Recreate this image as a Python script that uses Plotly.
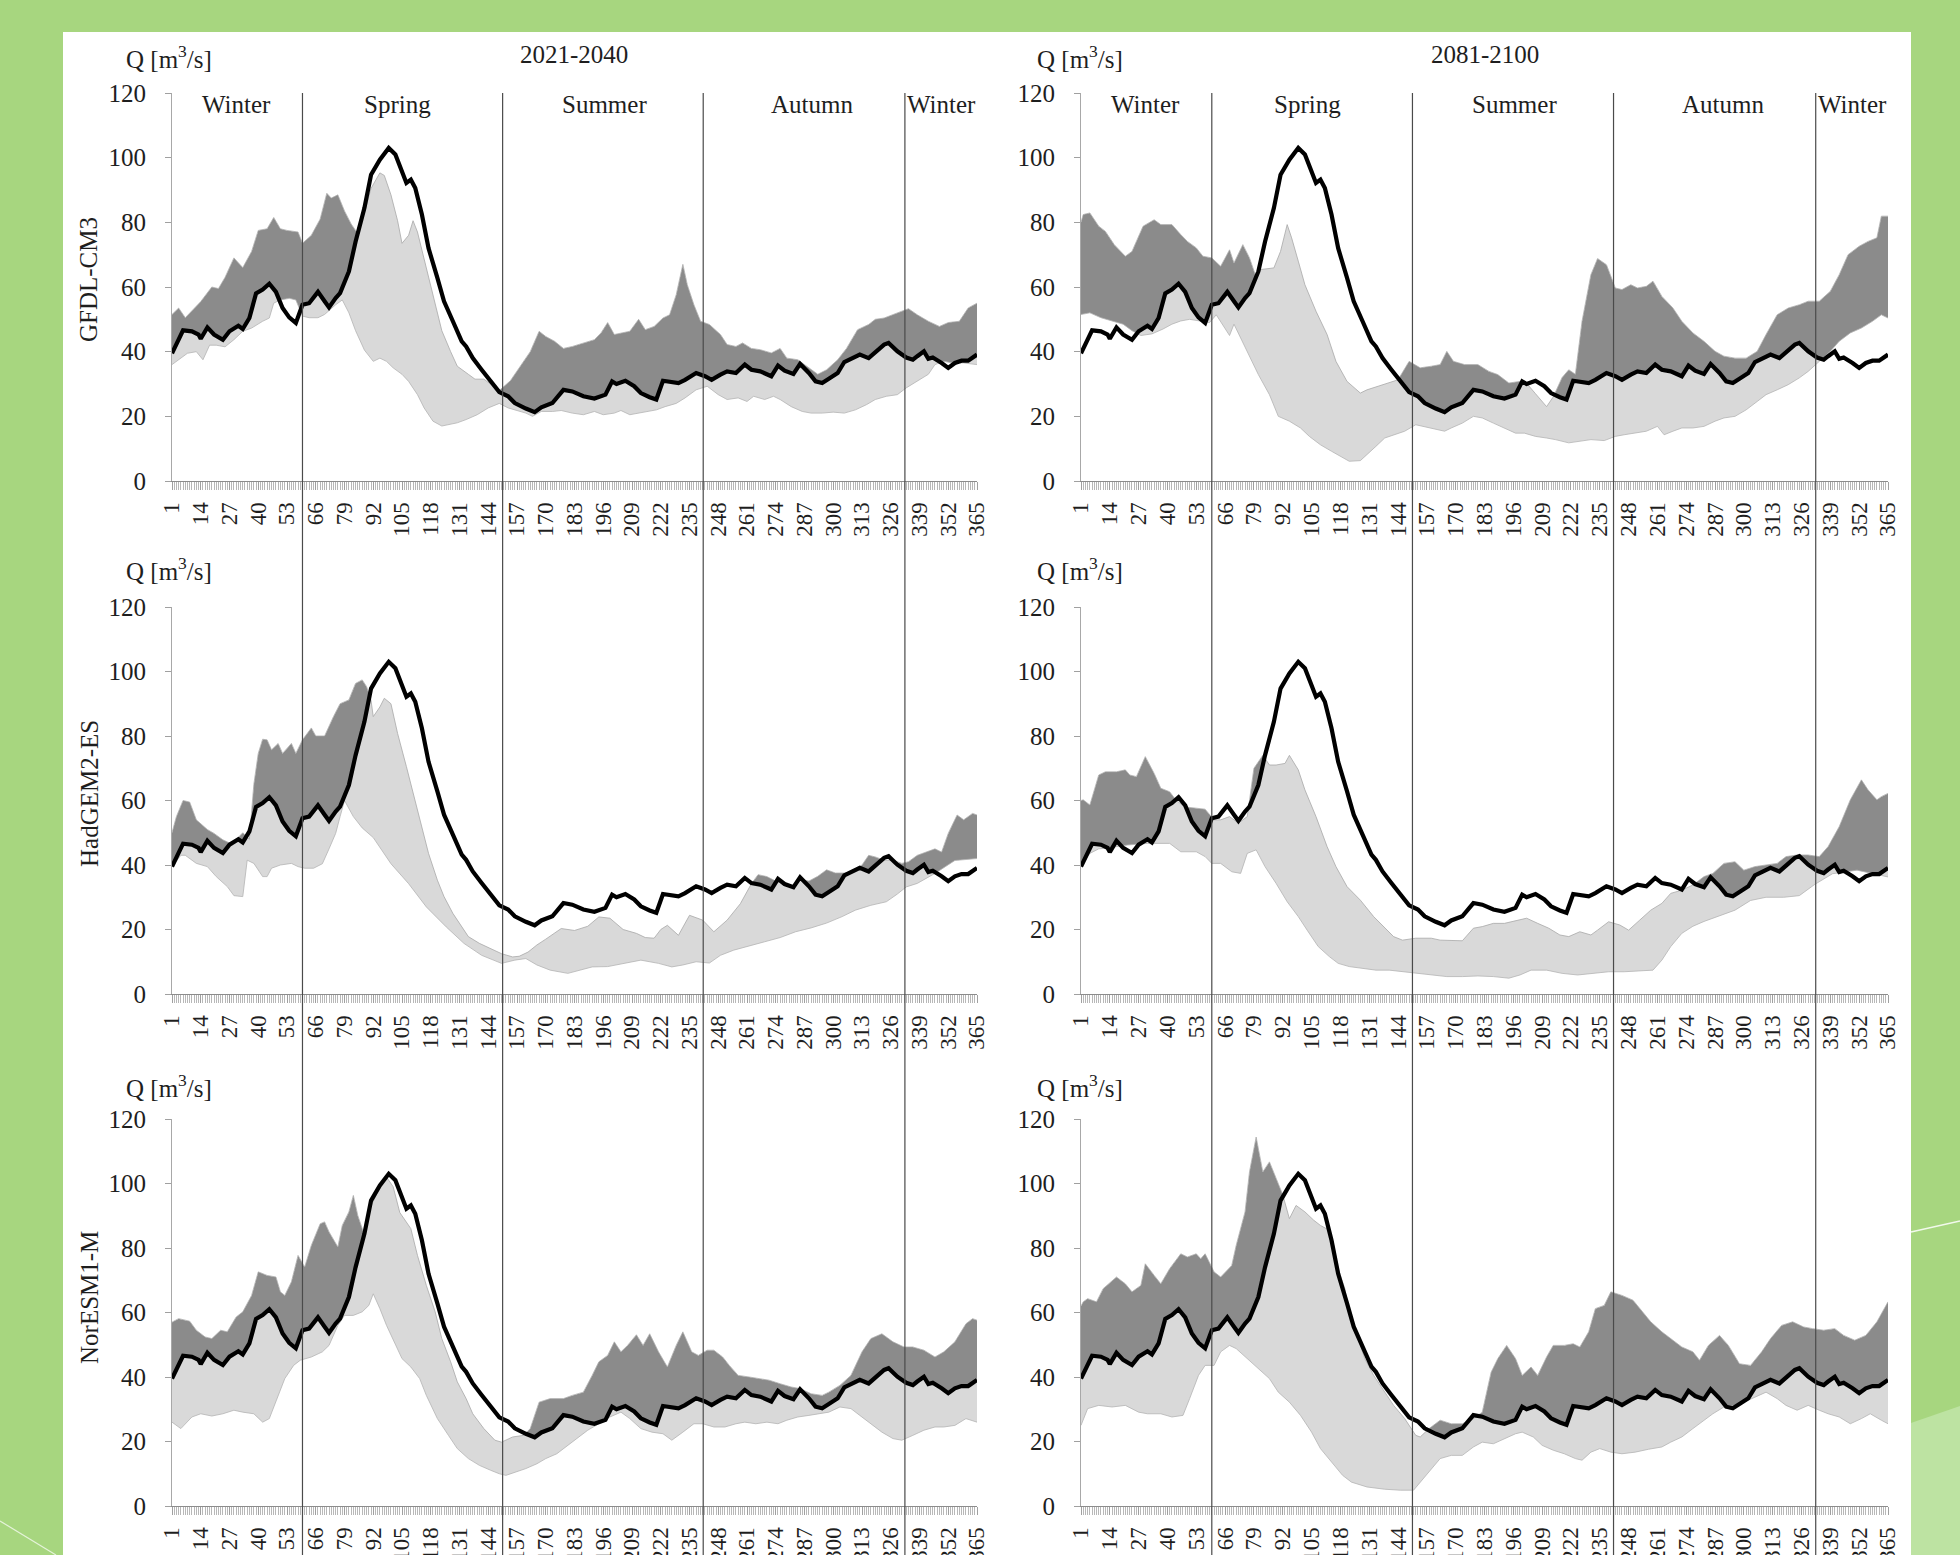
import plotly.graph_objects as go

# ---------------- data (day of year, Q [m3/s]) ----------------
tick_days = list(range(1, 366, 13))
season_names = ["Winter", "Spring", "Summer", "Autumn", "Winter"]
season_label_days = [30, 103, 196.5, 290.5, 349]
season_bounds = [60, 150.5, 241.2, 332.4]
periods = ["2021-2040", "2081-2100"]
models = ["GFDL-CM3", "HadGEM2-ES", "NorESM1-M"]

observed = [(1,39.5),(6,46.6),(10,46.3),(13,45.3),(14,44),(17,47.5),(20,45.3),(24,43.7),(27,46.3),(31,48),(33,47),(36,50.4),
            (39,58),(42,59.2),(45,61),(48,58.5),(51,53.5),(54,50.6),(57,48.9),(60,54.5),(63,55),(67,58.5),(70,55.6),(72,53.7),
            (75,56.6),(77,58.1),(81,64.8),(84,74),(88,84.4),(91,94.7),(95,99.4),(99,103),(102,101),(105,95.3),(107,92.2),
            (109,93.2),(111,90.6),(114,82.4),(117,72),(121,62.8),(124,55.6),(128,49.4),(132,43.2),(134,41.6),(137,38),
            (141,34.4),(145,30.8),(149,27.5),(153,26.2),(156,24.1),(161,22.4),(165,21.3),(168,22.8),(173,24.1),(178,28.2),
            (182,27.7),(187,26.2),(192,25.5),(197,26.7),(200,30.8),(202,30),(206,31),(210,29.3),(213,27.2),(217,25.9),
            (220,25.2),(223,31),(226,30.8),(230,30.3),(233,31.3),(238,33.4),(242,32.4),(245,31.3),(249,32.9),(252,33.9),
            (256,33.4),(260,36),(263,34.4),(267,33.9),(272,32.4),(275,35.7),(278,34.1),(282,33.1),(285,36.2),(289,33.4),
            (292,30.8),(295,30.3),(298,31.6),(302,33.4),(305,36.8),(309,38.2),(312,39.1),(316,38),(320,40.6),(323,42.2),
            (325,42.7),(329,40.1),(333,38.2),(336,37.5),(338,38.6),(341,40.1),(343,37.8),(345,38.2),(349,36.5),(352,35),
            (355,36.5),(358,37.2),(361,37.2),(365,39.1)]

gfdl_2021_max = [(1,51.5),(4,53.5),(7,50.5),(11,53.5),(14,55.5),(19,60),(22,59.5),(25,63),(29,69),(33,66),(37,71),(40,77.5),
                 (44,78),(47,81.5),(50,78),(53,77.5),(58,77),(60,73.5),(64,76),(68,81),(71,89),(73,87.5),(76,88.5),(79,83.5),
                 (82,79.5),(85,76.5),(88,83),(91,90.5),(95,95.3),(97,94.5),(100,88.5),(103,80.5),(105,73.5),(108,76),
                 (110,80.5),(112,77),(116,66),(120,54.5),(123,46.5),(127,40),(130,35.5),(135,33),(138,31.5),(142,31.5),
                 (145,30),(149,28),(154,31),(159,36),(163,40),(167,46.3),(170,44.7),(174,43.2),(178,41),(182,41.6),
                 (187,42.7),(192,43.7),(195,45.8),(198,49),(201,45.3),(205,45.8),(208,46.3),(212,50),(215,46.8),(219,47.8),
                 (223,50.4),(226,51.4),(229,57.6),(232,67),(234,60.7),(237,54.5),(240,49.4),(244,48.4),(249,45.3),
                 (252,42.2),(256,41.6),(259,42.7),(263,41),(267,40.6),(272,39.6),(276,41),(279,38),(284,37.5),(289,35),
                 (293,33),(297,34.4),(302,37.5),(306,41),(311,46.8),(316,48.4),(319,50),(323,50.4),(327,51.4),(330,52.3),
                 (334,53.3),(338,51.4),(343,49.4),(348,47.8),(352,49),(357,49.4),(361,53.5),(365,55)]
gfdl_2021_min = [(1,36),(4,37.5),(8,39.5),(12,40),(15,37.5),(18,42),(21,42),(25,41.5),(29,43.7),(33,46.3),(37,47.3),(42,49.4),
                 (45,50.4),(47,55),(50,56),(54,56.5),(57,56),(60,51),(63,50.5),(67,50.5),(70,51.5),(75,54.5),(78,56),(81,52),
                 (84,46.5),(88,40.5),(92,37),(95,38),(98,37),(101,35),(105,33),(108,30.8),(112,26.7),(115,22.6),(119,18.5),
                 (123,17),(126,17.4),(130,18),(134,19),(139,20.5),(144,22.6),(149,24),(153,22.6),(156,22),(161,21),(164,20),
                 (168,21.5),(173,21.5),(177,21.8),(182,21),(187,20.5),(192,21.5),(196,20.5),(201,21),(204,21.8),(208,20.5),
                 (212,21),(215,21.5),(220,22),(224,23),(229,24),(233,25.7),(238,28.2),(243,29.3),(248,26.7),(252,25.2),
                 (257,25.7),(261,24.6),(264,26.2),(269,25.2),(273,26.2),(276,25.2),(281,23),(286,21.5),(290,21),(295,21),
                 (300,21.3),(305,21),(310,22),(315,23.6),(319,25.2),(324,26.2),(329,26.7),(333,28.8),(338,30.8),(343,33),
                 (346,36),(350,37),(354,36.5),(359,36.5),(365,36)]

gfdl_2081_max = [(1,80),(2,82.4),(5,82.9),(9,78.8),(12,77.2),(16,73.1),(21,69.5),(24,71),(29,78.8),(34,80.8),(37,79.3),(42,79.3),
                 (46,76.2),(49,74.1),(53,72.1),(56,69.5),(60,69),(64,66.4),(68,71.5),(70,67.4),(74,73.1),(77,69),(80,63),
                 (82,65.4),(88,65.9),(91,71),(94,79.3),(96,75.2),(99,68),(102,60.7),(107,52.5),(112,45.3),(116,37),(121,30.8),
                 (127,27.2),(130,28.2),(135,29.3),(140,30.3),(144,31.3),(149,37),(154,35),(159,35.5),(163,36),(166,40.1),
                 (169,37),(174,36),(180,36),(185,33.9),(189,32.9),(194,30.3),(198,30.8),(201,31),(206,27),(211,23),(214,26),
                 (218,32),(221,34.4),(224,33),(227,49.4),(231,63.8),(234,68.8),(238,66.9),(242,59.7),(245,59.2),(249,60.7),
                 (252,59.7),(256,60.2),(259,61.8),(263,57.1),(268,53.5),(272,49.4),(277,45.8),(282,43.2),(287,40.1),
                 (291,38.6),(296,38),(301,38),(306,40.1),(310,45.3),(315,51.4),(320,53.5),(325,54.5),(329,55.6),(334,55.6),
                 (339,58.7),(343,63.8),(347,70),(352,72.6),(356,74.1),(360,75.2),(362,81.9),(365,81.9)]
gfdl_2081_min = [(1,51.5),(5,52),(10,50.5),(15,49.5),(20,48.5),(24,46.5),(28,45),(33,45.5),(38,47),(42,48.5),(46,49.5),(50,50),
                 (55,49.5),(59,49),(62,51.4),(66,47),(68,45),(70,48.5),(76,40.1),(81,32.9),(86,26.7),(90,20),(95,18.5),
                 (100,16.4),(104,13.8),(109,11.2),(114,9.2),(119,7.1),(122,6.1),(127,6.3),(130,8.1),(134,10.7),(138,13.3),
                 (142,14.3),(147,15.4),(152,17.4),(155,16.9),(161,15.9),(165,15.4),(168,16.4),(173,17.9),(178,20),(182,19.5),
                 (187,17.9),(192,16.4),(197,14.8),(201,14.8),(206,13.8),(211,13.3),(215,12.8),(221,11.8),(226,12.3),
                 (231,12.8),(237,12.5),(242,13.8),(246,14.3),(251,14.8),(256,15.4),(261,16.9),(264,14.3),(268,15.4),
                 (272,16.4),(277,16.4),(282,16.9),(287,18.5),(291,19.5),(296,20),(301,22),(306,24.6),(310,26.7),(315,28.2),
                 (320,29.8),(325,31.9),(329,33.9),(334,37),(339,40.1),(343,43.2),(348,45.8),(353,47.3),(358,49.4),
                 (362,51.4),(365,50.4)]

had_2021_max = [(1,50),(3,55),(6,60),(9,59.5),(12,54),(17,51),(20,49.8),(24,47.8),(28,46.5),(33,50),(36,48),(38,65),(40,74.6),
                (42,79),(44,78.8),(46,75.7),(49,77.7),(51,74.6),(55,77.7),(57,74.6),(60,78.8),(64,82.5),(66,80),(70,80),
                (74,86),(77,90),(81,91.2),(84,96.3),(87,97.4),(89,95.3),(91,91),(92,86),(95,89),(97,91.7),(100,90),
                (103,80.8),(107,70.5),(110,62.3),(114,52),(117,43.6),(121,35.3),(124,30.2),(128,25),(132,20.9),(135,17.8),
                (140,15.7),(145,14),(150,12.5),(155,11.5),(158,11.7),(162,13),(166,15.2),(170,17),(174,19),(177,20.3),
                (183,19.7),(189,21),(194,23.9),(199,23.5),(205,20),(211,18.8),(215,17.5),(219,17.3),(222,20),(225,21.3),
                (230,18.2),(235,24.4),(241,22.9),(246,19.3),(252,22.9),(258,28),(263,34.2),(266,37),(270,36.4),(274,35),
                (278,34),(282,33.5),(285,35.5),(289,35),(293,36.5),(297,38.5),(301,37.5),(305,37.5),(309,38),(313,40),
                (316,43),(319,42.5),(323,41.5),(327,41.5),(331,40.5),(334,41),(338,43),(342,44),(346,45),(349,44),
                (352,49.8),(356,55.5),(359,54),(363,56),(365,55.5)]
had_2021_min = [(1,39.5),(5,43),(7,43),(12,40.5),(17,39.5),(21,36.4),(26,33.3),(29,30.5),(33,30.2),(35,41.5),(38,40.5),
                (42,36.4),(44,36.4),(46,39),(50,40),(55,40.5),(58,39.5),(61,39),(65,39),(69,40.4),(72,45),(75,49.8),(77,55),
                (79,60),(83,55),(87,51.5),(92,48.5),(100,40.4),(108,34.2),(116,27),(125,20.8),(133,15.7),(141,12),(150,9.5),
                (156,10.5),(161,11),(166,9),(172,7.4),(180,6.4),(186,7.5),(191,8.4),(198,8.5),(205,9.5),(213,10.5),
                (221,9.5),(227,8.4),(232,9),(238,10),(244,9.6),(249,12),(255,13.6),(262,15),(269,16.2),(276,17.5),
                (283,19.3),(290,20.5),(297,22),(304,24),(310,26),(317,27.5),(324,28.6),(329,31),(333,33.2),(338,34.3),
                (346,37.4),(355,41.4),(365,42)]

had_2081_max = [(1,60),(2,60.2),(5,58.6),(9,67.9),(12,68.9),(17,68.9),(21,69.5),(23,67.9),(26,67.4),(30,73.6),(34,68.4),
                (37,63.8),(41,62.7),(44,60),(48,58),(53,57.6),(57,57.3),(61,54),(64,54),(68,55),(72,53),(76,55),(79,70),
                (83,74),(86,71),(89,71),(93,71.5),(95,74),(99,69.5),(102,63.3),(107,55),(112,45.7),(116,39.5),(121,33.3),
                (127,29.1),(133,24),(138,20.4),(142,17.8),(146,16.7),(152,17.3),(159,17.3),(163,16.7),(173,16.5),
                (178,20.4),(182,20.9),(187,21.9),(192,21.9),(198,22.9),(202,23.5),(207,21.9),(212,20.4),(217,18.3),
                (221,17.8),(226,19.3),(231,18.3),(234,19.8),(239,22.4),(244,21.4),(248,19.8),(253,22.9),(258,26),
                (263,28.1),(267,31.2),(272,32.2),(277,33.8),(282,36.4),(286,37.4),(291,40.5),(296,41),(300,38.4),
                (305,39.5),(310,40),(315,40.5),(319,42.6),(324,43.1),(329,43.1),(334,42.6),(338,45.7),(343,51.9),
                (348,60.2),(353,66.4),(356,63.3),(360,60.2),(362,61.2),(365,62.2)]
had_2081_min = [(1,40),(5,43.6),(9,45),(12,45.2),(22,46.2),(31,46.7),(41,46.7),(46,44.1),(53,44.1),(57,42.6),(60,40.5),
                (64,40.5),(69,37.9),(73,37.4),(76,43.6),(80,44.7),(84,39.5),(89,34.3),(94,28.6),(99,24),(103,19.8),
                (108,14.7),(113,11.6),(117,9.5),(122,8.5),(128,8),(134,7.4),(140,7.4),(147,6.9),(152,6.4),(159,5.9),
                (166,5.4),(173,5.4),(180,5.6),(187,5.4),(194,4.9),(199,5.9),(204,7.4),(211,7.4),(218,6.4),(225,5.9),
                (232,6.4),(239,6.9),(246,6.9),(253,7.2),(259,7.4),(263,10.5),(267,14.7),(272,18.8),(277,21),(282,22.5),
                (290,24.5),(296,26),(303,29),(310,30),(318,30),(325,30.5),(332,34),(340,37.3),(351,38.4),(365,36.3)]

nor_2021_max = [(1,57),(4,58.1),(9,57.3),(12,54.5),(16,52.4),(19,51.9),(23,54.5),(26,54),(30,58.6),(33,60.2),(37,65.3),
                (40,72.6),(44,71.5),(48,71),(50,66.4),(52,65.3),(55,69.5),(58,77.7),(61,74.1),(64,80.8),(68,87.5),(70,88.1),
                (72,85),(76,80.3),(78,87),(81,91.2),(83,96.3),(85,90.1),(88,84),(91,93),(95,99),(98,102),(101,99),(104,91),
                (109,86),(112,77.7),(116,68.4),(120,60.2),(123,51.9),(127,44.7),(130,38.5),(134,33.3),(137,28.6),(142,24),
                (147,20.4),(150,19.8),(155,21.4),(160,21.9),(163,24),(167,32.2),(172,33.3),(178,33.3),(182,34.3),(187,35.3),
                (191,40.5),(194,44.7),(198,46.7),(201,50.9),(204,47.8),(207,49.8),(211,53.1),(214,49.8),(217,53.4),
                (221,47.8),(225,43.1),(229,49.8),(232,54),(236,47.8),(239,46.7),(243,48.3),(246,48.3),(250,46.2),
                (253,43.6),(257,40.5),(262,40),(267,39.5),(271,39),(276,37.9),(281,36.9),(285,36.4),(290,34.8),(295,34.3),
                (298,35.3),(303,37.4),(308,40.5),(313,47.8),(317,51.9),(322,53.4),(327,50.9),(332,49.3),(336,49.3),
                (341,48.3),(346,46.2),(350,47.8),(355,50.9),(360,56.5),(363,58.1),(365,57.6)]
nor_2021_min = [(1,26),(5,24),(10,27.6),(14,28.6),(19,27.9),(24,28.6),(29,29.7),(33,29.1),(38,28.6),(42,26),(45,27.1),
                (49,34.3),(52,39.5),(56,43.6),(59,45.2),(64,46.2),(69,47.8),(72,49.8),(76,56),(79,59.1),(83,59.1),(87,60.2),
                (90,62.2),(92,65.8),(95,61.2),(98,56),(102,49.8),(105,45.7),(109,43.1),(113,39.5),(116,34.3),(121,27.1),
                (126,21.9),(130,17.8),(135,14.7),(140,12.6),(145,11.1),(149,10),(152,9.5),(156,10.5),(161,11.6),(166,13.1),
                (170,14.7),(175,16.2),(180,18.8),(185,21.4),(189,23.5),(194,25.5),(199,27.6),(204,29.1),(208,27.1),
                (213,24),(218,22.9),(223,22.4),(227,20.4),(232,22.9),(237,25.5),(241,25.5),(246,24.5),(251,24.5),
                (256,25.5),(260,26),(265,25.5),(270,26),(275,25.5),(279,26.6),(284,27.6),(289,28.1),(294,28.6),(298,29.1),
                (303,30.7),(308,30.2),(312,28.1),(317,25.5),(322,22.9),(327,20.9),(331,20.4),(336,21.9),(341,23.5),
                (346,24.5),(350,24.5),(355,25),(360,27.1),(365,26)]

nor_2081_max = [(1,62),(2,63.3),(4,64.3),(8,63.3),(11,67.4),(17,71),(21,68.9),(24,66.4),(28,68.4),(30,75.1),(34,71.5),
                (37,68.9),(41,73.6),(46,78.2),(49,77.2),(53,78.2),(55,76.7),(57,78.2),(61,72.6),(64,71),(69,74.6),(71,80.8),
                (75,91.2),(77,103.6),(80,114.4),(83,103.6),(86,106.7),(89,101.5),(92,96.5),(95,89.1),(98,93.2),(102,91.2),
                (106,88.6),(109,87),(113,85.5),(115,80.8),(117,73.6),(120,67.4),(122,60.2),(126,51.9),(129,45.7),
                (133,40.5),(138,35.3),(142,31.2),(147,27.1),(152,21.9),(154,21.4),(158,24),(163,26.6),(168,25.5),
                (173,25.5),(178,27.1),(182,29.1),(186,41.5),(189,45.7),(193,49.8),(197,45.7),(200,40.5),(204,43.1),
                (207,40.5),(211,46.2),(214,49.8),(219,49.8),(223,50.3),(226,49.3),(230,54),(233,61.2),(237,62.2),
                (240,66.4),(245,65.3),(250,63.8),(253,61.2),(258,57.1),(263,54),(267,51.9),(272,49.3),(277,47.8),
                (280,45.2),(284,49.8),(289,52.9),(293,49.8),(298,44.1),(303,43.6),(308,47.8),(312,51.9),(317,56),
                (322,57.1),(327,55.5),(331,55),(336,54.5),(341,55),(345,52.9),(350,51.4),(355,52.9),(360,57.1),(365,63.3)]
nor_2081_min = [(1,25),(4,30.2),(9,31.2),(15,30.7),(21,31.2),(27,29.1),(31,28.6),(37,28.6),(42,27.6),(47,28.1),(50,33.3),
                (54,40.5),(57,43.6),(61,43.6),(64,47.8),(68,49.8),(71,48.8),(76,45.7),(81,42.6),(86,39.5),(90,35.3),
                (95,32.2),(100,28.1),(105,22.9),(109,17.8),(114,13.6),(119,9.5),(123,7.4),(130,5.9),(138,5.2),(145,4.9),
                (151,4.9),(154,7.4),(159,11.6),(163,14.7),(168,15.7),(173,15.7),(178,18.3),(182,19.8),(187,19.3),
                (192,20.9),(197,22.4),(200,22.9),(205,21.4),(209,18.8),(214,17.3),(219,16.2),(224,14.7),(227,14.2),
                (231,16.7),(235,17.8),(240,16.7),(245,16.2),(251,16.7),(257,17.6),(263,18.3),(267,19.8),(272,21.4),
                (277,24),(282,26.6),(286,28.6),(291,30.7),(296,31.2),(300,32.2),(305,33.8),(310,35.3),(315,33.3),
                (319,31.2),(324,29.7),(329,31.2),(334,29.7),(338,28.6),(343,27.6),(348,25.5),(353,27.1),(357,28.6),
                (362,26.6),(365,25.5)]

# ---------------- styling ----------------
W, H = 1960, 1555
FONT = "Liberation Serif, Times New Roman, serif"
TXT = "#1e1e1e"
DARK = "#8b8b8b"
LIGHT = "#d9d9d9"
GREEN = "#a7d67f"

def px_x(p):
    return p / W

def px_y(p):
    return 1 - p / H

col_dom = [[px_x(172), px_x(977)], [px_x(1081), px_x(1888)]]
row_dom = [[px_y(481), px_y(93)], [px_y(994), px_y(607)], [px_y(1506), px_y(1119)]]

panels = [
    (gfdl_2021_min, gfdl_2021_max),
    (gfdl_2081_min, gfdl_2081_max),
    (had_2021_min, had_2021_max),
    (had_2081_min, had_2081_max),
    (nor_2021_min, nor_2021_max),
    (nor_2081_min, nor_2081_max),
]

def xs(p):
    return [d for d, _ in p]

def ys(p):
    return [q for _, q in p]

fig = go.Figure()
common = dict(mode="lines", hoverinfo="skip", showlegend=False)

for i, (mn, mx) in enumerate(panels):
    xa = "x" if i == 0 else f"x{i+1}"
    ya = "y" if i == 0 else f"y{i+1}"
    ax = dict(xaxis=xa, yaxis=ya)
    # whole band up to its maximum (dark = part above the observed line)
    fig.add_trace(go.Scatter(x=xs(mx), y=ys(mx), fill="tozeroy", fillcolor=DARK,
                             line=dict(width=0), **ax, **common))
    # part below the observed line (light)
    fig.add_trace(go.Scatter(x=xs(observed), y=ys(observed), fill="tozeroy", fillcolor=LIGHT,
                             line=dict(width=0), **ax, **common))
    # clear below the band minimum
    fig.add_trace(go.Scatter(x=xs(mn), y=ys(mn), fill="tozeroy", fillcolor="white",
                             line=dict(width=0.8, color="#b4b4b4"), **ax, **common))
    # clear above the band maximum
    fig.add_trace(go.Scatter(x=[1, 365], y=[120, 120], line=dict(width=0), **ax, **common))
    fig.add_trace(go.Scatter(x=xs(mx), y=ys(mx), fill="tonexty", fillcolor="white",
                             line=dict(width=0.8, color="#a8a8a8"), **ax, **common))
    # observed line
    fig.add_trace(go.Scatter(x=xs(observed), y=ys(observed),
                             line=dict(width=4.2, color="black"), **ax, **common))

layout = dict(
    width=W, height=H, autosize=False,
    margin=dict(l=0, r=0, t=0, b=0, pad=0, autoexpand=False),
    paper_bgcolor=GREEN,
    plot_bgcolor="rgba(0,0,0,0)",
    font=dict(family=FONT, color=TXT, size=24),
)

for i in range(6):
    row, col = divmod(i, 2)
    xname = "xaxis" if i == 0 else f"xaxis{i+1}"
    yname = "yaxis" if i == 0 else f"yaxis{i+1}"
    xa = "x" if i == 0 else f"x{i+1}"
    ya = "y" if i == 0 else f"y{i+1}"
    layout[xname] = dict(
        domain=col_dom[col], anchor=ya, range=[1, 365], automargin=False,
        tickmode="array", tickvals=tick_days, ticktext=[str(d) for d in tick_days],
        tickangle=-90, ticks="outside", ticklen=8, tickwidth=1, tickcolor="#a0a0a0",
        minor=dict(tick0=1, dtick=1, ticks="outside", ticklen=8, tickwidth=1, tickcolor="#b8b8b8", showgrid=False),
        showline=True, linecolor="#8c8c8c", linewidth=1,
        showgrid=False, zeroline=False, ticklabelstandoff=3,
        tickfont=dict(family=FONT, size=23, color=TXT), fixedrange=True,
    )
    layout[yname] = dict(
        domain=row_dom[row], anchor=xa, range=[0, 120], automargin=False,
        tickmode="array", tickvals=[0, 20, 40, 60, 80, 100, 120],
        ticks="outside", ticklen=6, tickwidth=1, tickcolor="#a0a0a0",
        showline=True, linecolor="#a8a8a8", linewidth=1,
        showgrid=False, zeroline=False, ticklabelstandoff=14,
        tickfont=dict(family=FONT, size=25, color=TXT), fixedrange=True,
    )

shapes = []
# white sheet
shapes.append(dict(type="rect", xref="paper", yref="paper", x0=px_x(63), x1=px_x(1911), y0=0, y1=px_y(32),
                   fillcolor="white", line=dict(width=0), layer="below"))
# decorative background strokes
shapes.append(dict(type="path", xref="paper", yref="paper",
                   path=f"M {px_x(1911)} {px_y(1423)} L 1 {px_y(1406)} L 1 0 L {px_x(1911)} 0 Z",
                   fillcolor="#bde3a2", line=dict(width=0), layer="below"))
shapes.append(dict(type="line", xref="paper", yref="paper", x0=px_x(1911), y0=px_y(1232), x1=1, y1=px_y(1221),
                   line=dict(color="rgba(255,255,255,0.85)", width=1.5), layer="below"))
shapes.append(dict(type="line", xref="paper", yref="paper", x0=0, y0=px_y(1521), x1=px_x(56), y1=0,
                   line=dict(color="rgba(255,255,255,0.7)", width=1.2), layer="below"))
# season dividers spanning all rows
for xref in ["x", "x2"]:
    for b in season_bounds:
        shapes.append(dict(type="line", xref=xref, yref="paper", x0=b, x1=b, y0=0, y1=px_y(93),
                           line=dict(color="#4a4a4a", width=1.2), layer="above"))
layout["shapes"] = shapes

ann = []
for col, xref in enumerate(["x", "x2"]):
    yref = "y" if col == 0 else "y2"
    for name, d in zip(season_names, season_label_days):
        ann.append(dict(text=name, x=d, y=116.3, xref=xref, yref=yref, showarrow=False,
                        xanchor="center", yanchor="middle", font=dict(family=FONT, size=25, color=TXT)))
for p, xc in zip(periods, [574, 1485]):
    ann.append(dict(text=p, x=px_x(xc), y=px_y(55), xref="paper", yref="paper", showarrow=False,
                    xanchor="center", yanchor="middle", font=dict(family=FONT, size=25, color=TXT)))
for yc in [57, 569, 1086]:
    for xc in [169, 1080]:
        ann.append(dict(text="Q [m<sup>3</sup>/s]", x=px_x(xc), y=px_y(yc), xref="paper", yref="paper",
                        showarrow=False, xanchor="center", yanchor="middle",
                        font=dict(family=FONT, size=25, color=TXT)))
for m, yc in zip(models, [280, 794, 1298]):
    ann.append(dict(text=m, x=px_x(89), y=px_y(yc), xref="paper", yref="paper", showarrow=False,
                    textangle=-90, xanchor="center", yanchor="middle",
                    font=dict(family=FONT, size=25, color=TXT)))
layout["annotations"] = ann

fig.update_layout(**layout)
fig.write_html(
    "out.html",
    config={"displayModeBar": False},
    post_script="document.body.style.margin='0';document.body.style.padding='0';"
                "document.body.style.overflow='hidden';document.body.style.background='" + GREEN + "';",
)
